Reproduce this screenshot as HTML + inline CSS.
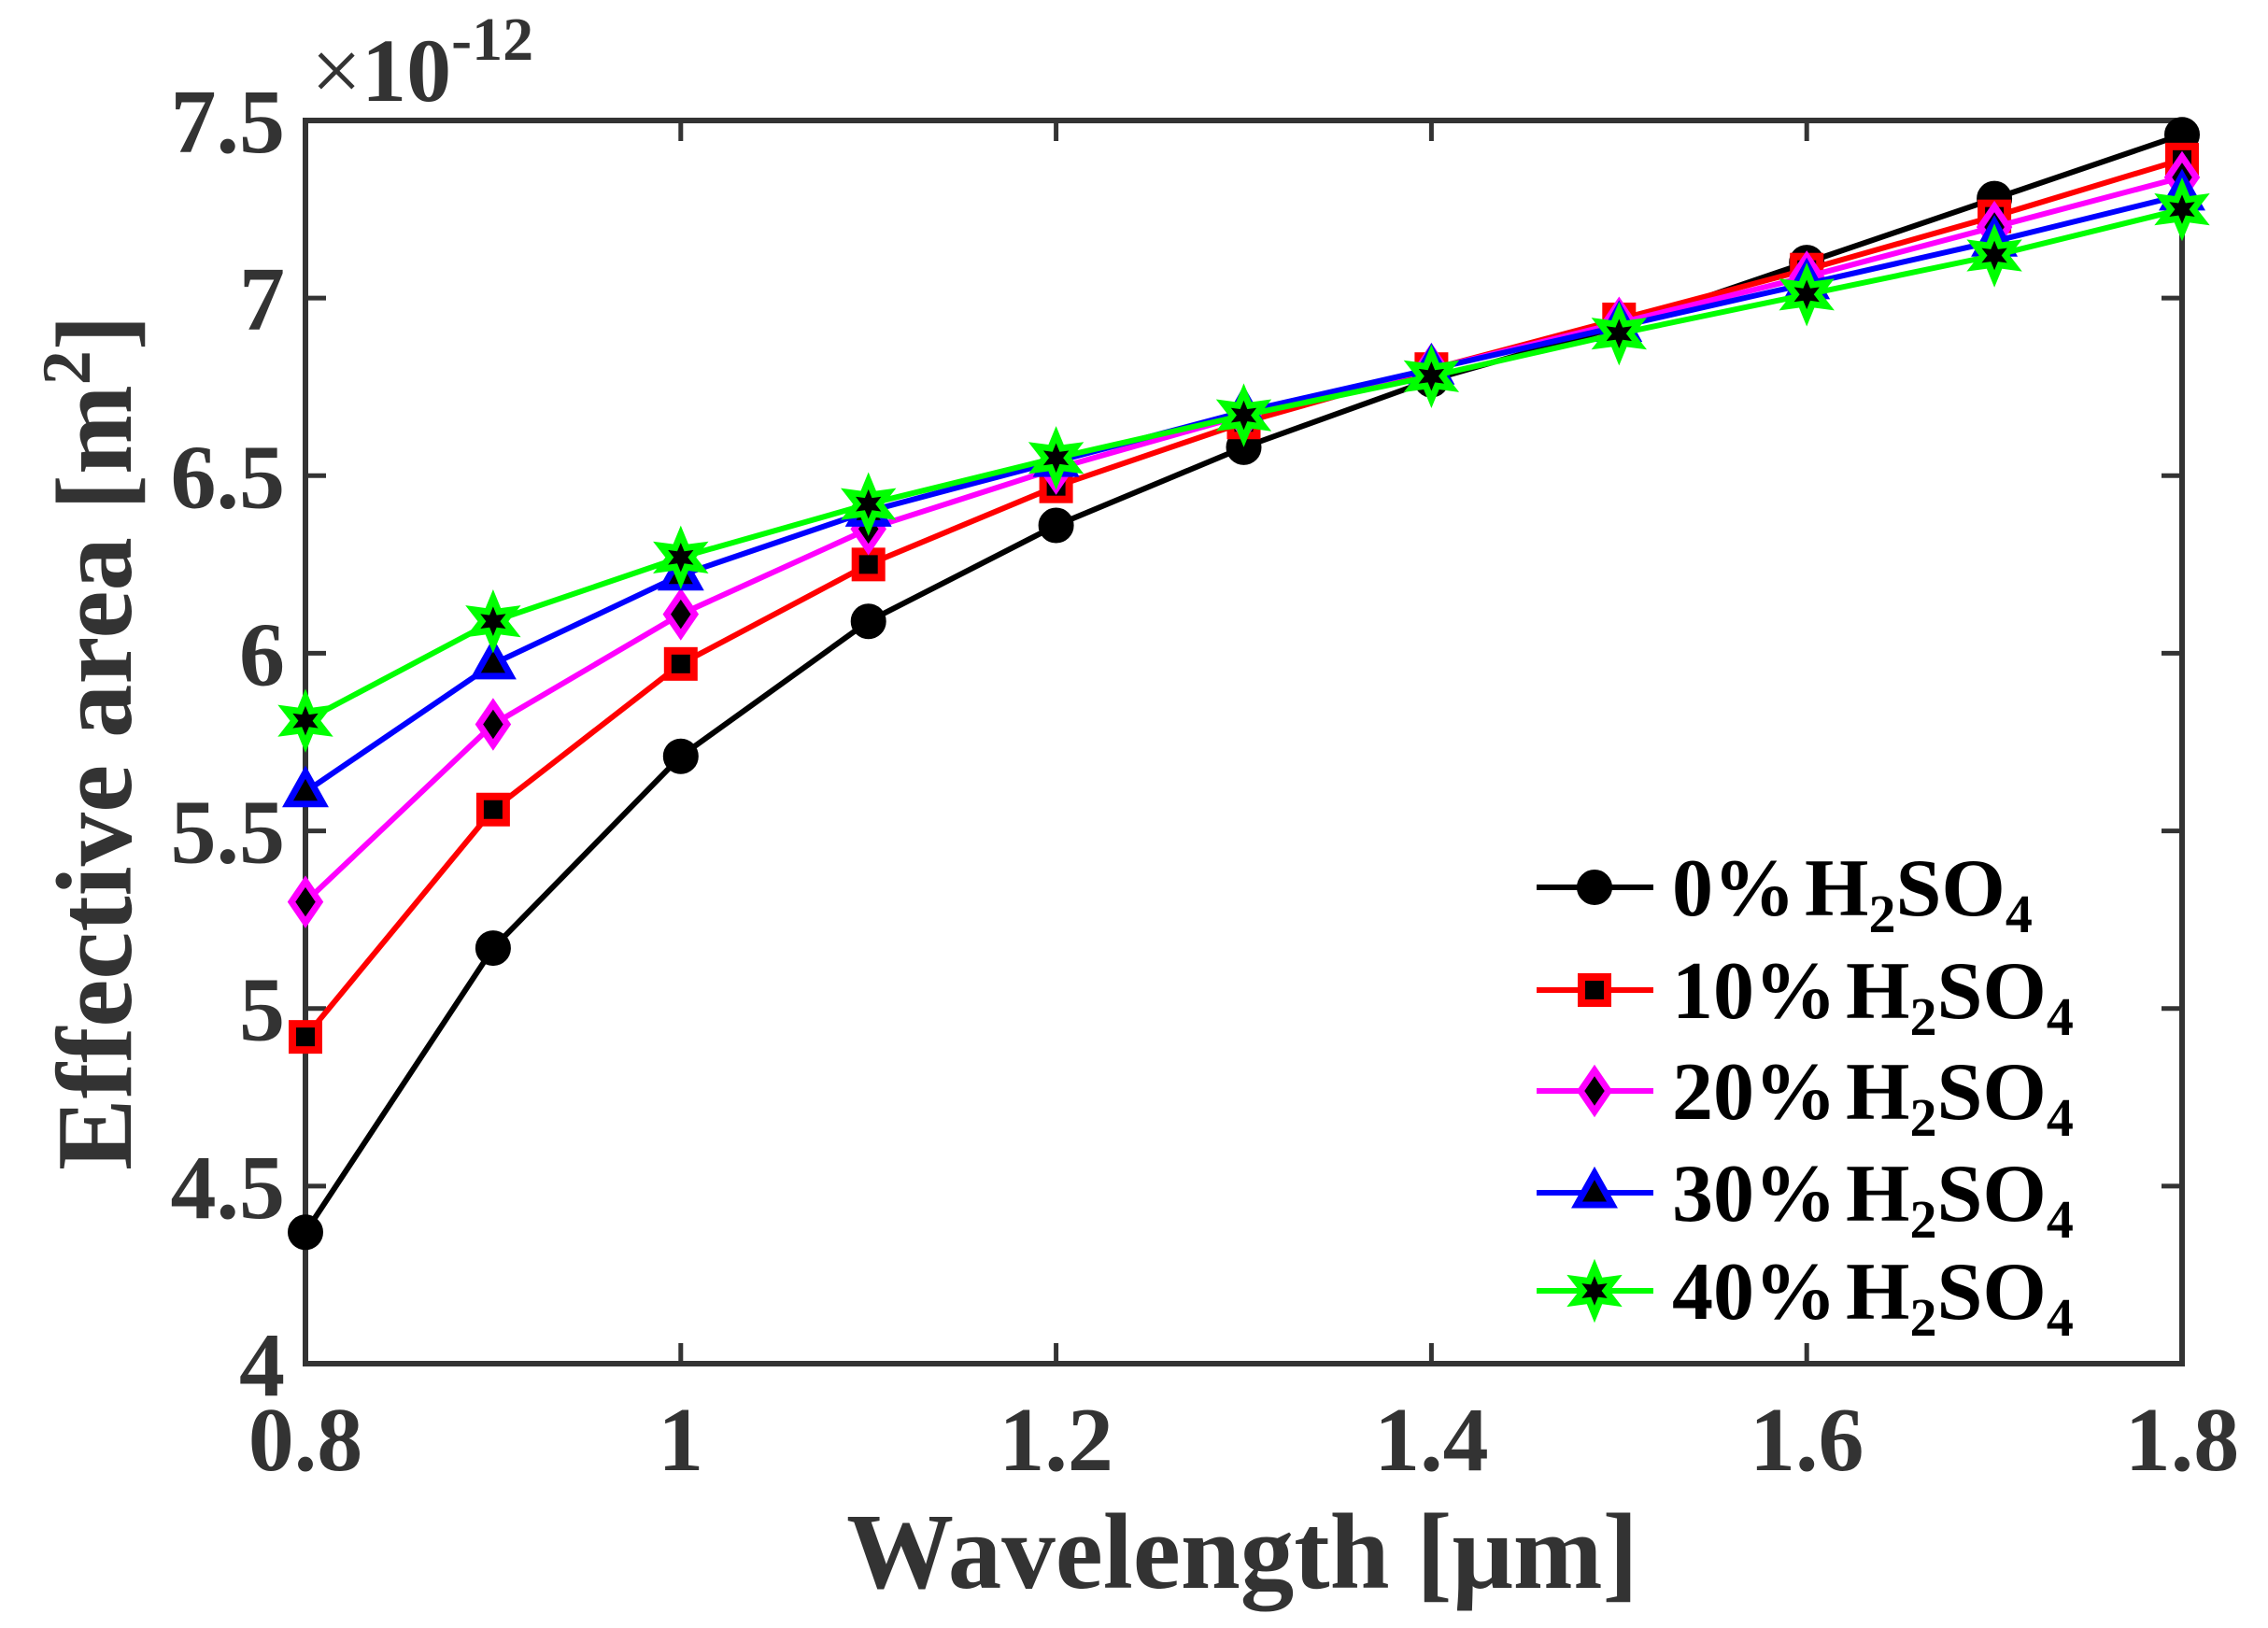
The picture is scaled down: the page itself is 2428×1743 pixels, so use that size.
<!DOCTYPE html>
<html><head><meta charset="utf-8"><style>
html,body{margin:0;padding:0;background:#fff;}
svg{display:block;}
text{font-family:"Liberation Serif",serif;font-weight:bold;}
</style></head><body>
<svg id="chart" width="2428" height="1743" viewBox="0 0 2428 1743" xmlns="http://www.w3.org/2000/svg">
<g id="plot"></g>
</svg>
<script>
const categories = [0.8,0.9,1.0,1.1,1.2,1.3,1.4,1.5,1.6,1.7,1.8];
const s0 = [4.37,5.17,5.71,6.09,6.36,6.58,6.77,6.92,7.10,7.28,7.46];
const s10 = [4.92,5.56,5.97,6.25,6.47,6.65,6.80,6.94,7.08,7.23,7.39];
const s20 = [5.30,5.80,6.11,6.35,6.52,6.67,6.80,6.93,7.06,7.20,7.34];
const s30 = [5.61,5.97,6.22,6.40,6.54,6.68,6.80,6.92,7.04,7.16,7.29];
const s40 = [5.81,6.09,6.27,6.42,6.55,6.67,6.78,6.90,7.01,7.12,7.25];
const xTicks = [0.8,1.0,1.2,1.4,1.6,1.8];
const xTickLabels = ["0.8","1","1.2","1.4","1.6","1.8"];
const yTicks = [4,4.5,5,5.5,6,6.5,7,7.5];
const yTickLabels = ["4","4.5","5","5.5","6","6.5","7","7.5"];
const seriesNames = ["0%","10%","20%","30%","40%"];

const L=327,R=2336,T=129,B=1460;
const xMin=0.8,xMax=1.8,yMin=4,yMax=7.5;
const X=v=>L+(v-xMin)/(xMax-xMin)*(R-L);
const Y=v=>B-(v-yMin)/(yMax-yMin)*(B-T);
const NS="http://www.w3.org/2000/svg";
const g=document.getElementById('plot');
function mk(tag,attrs,parent){const e=document.createElementNS(NS,tag);for(const k in attrs)e.setAttribute(k,attrs[k]);(parent||g).appendChild(e);return e;}

xTicks.forEach((v,i)=>{
  const t=mk('line',{x1:X(v),x2:X(v),y1:B,y2:B-22,stroke:'#333','stroke-width':5});
  
  
  const t2=mk('line',{x1:X(v),x2:X(v),y1:T,y2:T+22,stroke:'#333','stroke-width':5});
  
  
  const lb=mk('text',{x:X(v),y:1574,'text-anchor':'middle','font-size':98,fill:'#333'});
  lb.textContent=xTickLabels[i];
  
  
});
yTicks.forEach((v,i)=>{
  const t=mk('line',{x1:L,x2:L+22,y1:Y(v),y2:Y(v),stroke:'#333','stroke-width':5});
  
  
  const t2=mk('line',{x1:R,x2:R-22,y1:Y(v),y2:Y(v),stroke:'#333','stroke-width':5});
  
  
  const lb=mk('text',{x:L-22,y:Y(v)+34,'text-anchor':'end','font-size':98,fill:'#333'});
  lb.textContent=yTickLabels[i];
  
  
});

const box=mk('rect',{x:L,y:T,width:R-L,height:B-T,fill:'none',stroke:'#333','stroke-width':6});



const styles=[
 {c:'#000',m:'circle',f:'#000'},
 {c:'#ff0000',m:'square',f:'#000'},
 {c:'#ff00ff',m:'diamond',f:'#000'},
 {c:'#0000ff',m:'triangle',f:'#000'},
 {c:'#00ff00',m:'hexagram',f:'#000'}
];
function marker(x,y,st,parent){
  let e;
  if(st.m==='circle'){e=mk('circle',{cx:x,cy:y,r:18,fill:'#000',stroke:'#000','stroke-width':2},parent);}
  else if(st.m==='square'){e=mk('rect',{x:x-14,y:y-14,width:28,height:28,fill:st.f,stroke:st.c,'stroke-width':8},parent);}
  else if(st.m==='diamond'){e=mk('polygon',{points:`${x},${y-22} ${x+15},${y} ${x},${y+22} ${x-15},${y}`,fill:st.f,stroke:st.c,'stroke-width':7},parent);}
  else if(st.m==='triangle'){e=mk('polygon',{points:`${x},${y-21} ${x+19},${y+13} ${x-19},${y+13}`,fill:st.f,stroke:st.c,'stroke-width':7},parent);}
  else {
    let p=[];for(let k=0;k<12;k++){const a=-Math.PI/2+k*Math.PI/6;const r=k%2?12:25;p.push((x+r*Math.cos(a)).toFixed(1)+','+(y+r*Math.sin(a)).toFixed(1));}
    e=mk('polygon',{points:p.join(' '),fill:st.f,stroke:st.c,'stroke-width':7},parent);
  }
  return e;
}
const allSeries=[s0,s10,s20,s30,s40];
allSeries.forEach((s,si)=>{
  const st=styles[si];
  const grp=mk('g',{});
  
  
  const ln=mk('polyline',{points:s.map((v,i)=>X(categories[i])+','+Y(v)).join(' '),fill:'none',stroke:st.c,'stroke-width':6},grp);
  
  
  s.forEach((v,i)=>{const m=marker(X(categories[i]),Y(v),st,grp);
    
    });
});

const lg=mk('g',{});


const ly=[950,1060,1168,1277,1382];
seriesNames.forEach((n,i)=>{
  const st=styles[i];
  const e=mk('g',{},lg);
  
  
  mk('line',{x1:1645,x2:1770,y1:ly[i],y2:ly[i],stroke:st.c,'stroke-width':6},e);
  marker(1707,ly[i],st,e);
  const t=mk('text',{x:1790,y:ly[i]+30,'font-size':88,fill:'#000'},e);
  t.innerHTML=n+'<tspan dx="10">H</tspan><tspan font-size="58" dy="18">2</tspan><tspan dy="-18">SO</tspan><tspan font-size="58" dy="18">4</tspan>';
});

const xt=mk('text',{x:1330,y:1700,'text-anchor':'middle','font-size':115,fill:'#333'});
xt.textContent='Wavelength [μm]';


const yt=mk('text',{x:0,y:0,'text-anchor':'middle','font-size':115,fill:'#333',transform:'translate(140,795) rotate(-90)'});
yt.innerHTML='Effective area [m<tspan font-size="74" dy="-44">2</tspan><tspan dy="44">]</tspan>';


const mu=mk('text',{x:333,y:108,'font-size':96,fill:'#333'});
mu.innerHTML='<tspan font-weight="normal">×</tspan>10<tspan font-size="66" dy="-44">-12</tspan>';


</script>
</body></html>
